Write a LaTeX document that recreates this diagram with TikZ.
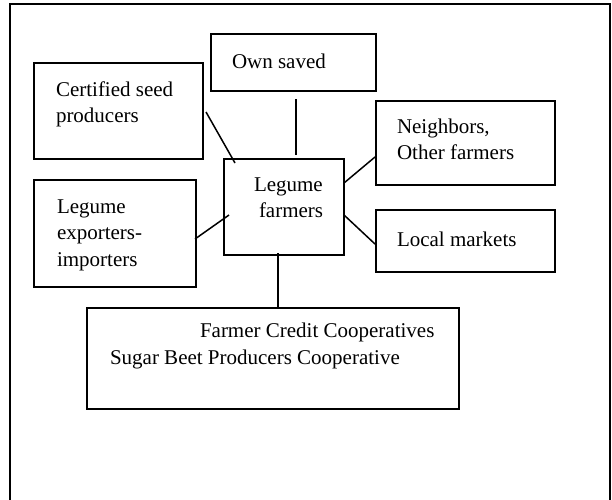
\documentclass[tikz,border=0pt]{standalone}
\usepackage{fontspec}
\setmainfont{Liberation Serif}
\begin{document}
\begin{tikzpicture}[x=1pt,y=-1pt,
  box/.style={draw=black, line width=1.5pt, rectangle, inner sep=0pt, outer sep=0pt, fill=none},
  frame/.style={draw=black, line width=2pt},
  label/.style={anchor=base west, inner sep=0pt, outer sep=0pt, font=\fontsize{21}{26}\selectfont},
  link/.style={draw=black, line width=1.5pt}]
\useasboundingbox (0,0) rectangle (612,499);
\fill[white] (0,0) rectangle (612,499);
% outer frame (continues past the bottom edge)
\draw[frame] (10,510) -- (10,4) -- (610,4) -- (610,510);

% boxes
\node[box, minimum width=165pt, minimum height=57pt] (own) at (293.5,62.5) {};
\node[box, minimum width=169pt, minimum height=96pt] (cert) at (118.5,111) {};
\node[box, minimum width=179pt, minimum height=84pt] (neigh) at (465.5,143) {};
\node[box, minimum width=120pt, minimum height=96pt] (farm) at (284,207) {};
\node[box, minimum width=162pt, minimum height=107pt] (exp) at (115,233.5) {};
\node[box, minimum width=179pt, minimum height=62pt] (local) at (465.5,241) {};
\node[box, minimum width=372pt, minimum height=101pt] (coop) at (273,358.5) {};

% texts
\node[label] (tOwn) at (232,68) {Own saved};
\node[label] (tCert1) at (56,96) {Certified seed};
\node[label] (tCert2) at (56,122) {producers};
\node[label] (tNeigh1) at (397,133) {Neighbors,};
\node[label] (tNeigh2) at (397,159) {Other farmers};
\node[label] (tFarm1) at (254,191) {Legume};
\node[label] (tFarm2) at (259,217) {farmers};
\node[label] (tExp1) at (57,213) {Legume};
\node[label] (tExp2) at (57,239) {exporters-};
\node[label] (tExp3) at (57,266) {importers};
\node[label] (tLocal) at (397,246) {Local markets};
\node[label] (tCoop1) at (200,337) {Farmer Credit Cooperatives};
\node[label] (tCoop2) at (110,364) {Sugar Beet Producers Cooperative};

% connector end points
\coordinate (cA1) at (206,112);  \coordinate (cA2) at (235,163);
\coordinate (cB1) at (296,99);   \coordinate (cB2) at (296,155);
\coordinate (cC1) at (375,157);  \coordinate (cC2) at (344,183);
\coordinate (cD1) at (344,215);  \coordinate (cD2) at (375,244);
\coordinate (cE1) at (195,239);  \coordinate (cE2) at (229,215);
\coordinate (cF1) at (278,253);  \coordinate (cF2) at (278,308);

\draw[link] (cA1) -- (cA2);
\draw[link] (cB1) -- (cB2);
\draw[link] (cC1) -- (cC2);
\draw[link] (cD1) -- (cD2);
\draw[link] (cE1) -- (cE2);
\draw[link] (cF1) -- (cF2);
\end{tikzpicture}
\end{document}
